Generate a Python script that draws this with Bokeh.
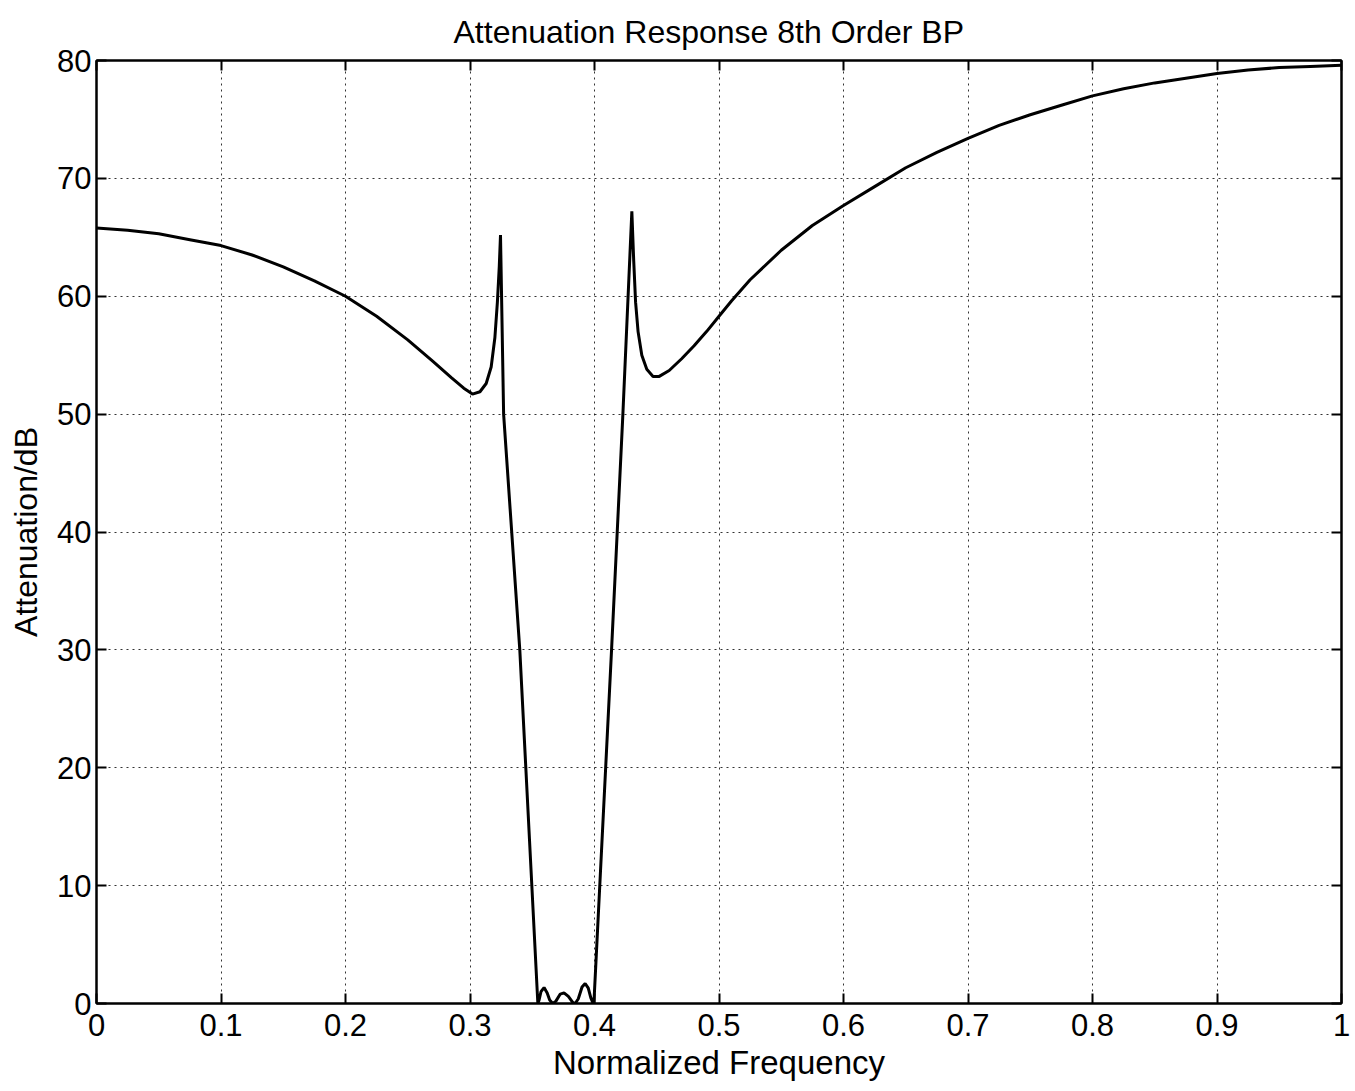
from bokeh.plotting import figure
from bokeh.models import LinearAxis, Range1d, FixedTicker, CustomLabelingPolicy
from bokeh.embed import file_html
from bokeh.resources import INLINE

# ---- data ----
freq = [0.000, 0.025, 0.050, 0.075, 0.100, 0.125, 0.150, 0.175, 0.200, 0.225,
        0.250, 0.270, 0.285, 0.295, 0.302, 0.308, 0.313, 0.317, 0.320, 0.322,
        0.3235, 0.3245, 0.327, 0.340, 0.3545,
        0.3555, 0.357, 0.3595, 0.362, 0.364, 0.3665, 0.369, 0.3725, 0.3755,
        0.379, 0.3825, 0.3845, 0.387, 0.390, 0.3925, 0.395, 0.397, 0.3985,
        0.3995, 0.4137, 0.4228, 0.430,
        0.4315, 0.433, 0.435, 0.438, 0.442, 0.447, 0.452, 0.460, 0.470, 0.480,
        0.490, 0.500, 0.510, 0.525, 0.550, 0.575, 0.600, 0.625, 0.650, 0.675,
        0.700, 0.725, 0.750, 0.775, 0.800, 0.825, 0.850, 0.875, 0.900, 0.925,
        0.950, 0.975, 1.000]
atten = [65.8, 65.6, 65.3, 64.8, 64.3, 63.5, 62.5, 61.3, 60.0, 58.3,
         56.3, 54.5, 53.1, 52.2, 51.7, 51.9, 52.6, 54.0, 56.5, 59.5,
         62.5, 65.2, 50.0, 30.0, 0.0,
         0.3, 1.0, 1.35, 0.9, 0.3, 0.0, 0.2, 0.8, 0.9,
         0.6, 0.1, 0.0, 0.4, 1.4, 1.7, 1.3, 0.5, 0.1,
         0.0, 30.0, 50.0, 67.2,
         63.0, 59.5, 57.0, 55.0, 53.8, 53.2, 53.2, 53.7, 54.7, 55.8,
         57.0, 58.3, 59.6, 61.4, 63.9, 66.0, 67.7, 69.3, 70.9, 72.2,
         73.4, 74.5, 75.4, 76.2, 77.0, 77.6, 78.1, 78.5, 78.9, 79.2,
         79.4, 79.5, 79.6]

x_ticks = [0, 0.1, 0.2, 0.3, 0.4, 0.5, 0.6, 0.7, 0.8, 0.9, 1]
x_tick_labels = ["0", "0.1", "0.2", "0.3", "0.4", "0.5", "0.6", "0.7", "0.8", "0.9", "1"]
y_ticks = [0, 10, 20, 30, 40, 50, 60, 70, 80]

FONT = "Liberation Sans"

p = figure(width=1353, height=1083, output_backend="svg", toolbar_location=None,
           x_range=Range1d(0, 1), y_range=Range1d(0, 80),
           title="Attenuation Response 8th Order BP",
           min_border_left=96, min_border_right=12, min_border_top=60, min_border_bottom=78)

p.title.align = "left"
p.title.offset = 357
p.title.standoff = 22
p.title.text_font = FONT
p.title.text_font_size = "32px"
p.title.text_font_style = "normal"
p.title.text_color = "black"

p.line(freq, atten, line_color="black", line_width=3)

p.outline_line_color = "black"
p.outline_line_width = 2
p.background_fill_color = "white"
p.border_fill_color = "white"

for ax in (p.xaxis[0], p.yaxis[0]):
    ax.major_tick_in = 10
    ax.major_tick_out = 0
    ax.minor_tick_in = 0
    ax.minor_tick_out = 0
    ax.axis_line_color = "black"
    ax.axis_line_width = 2
    ax.major_tick_line_color = "black"
    ax.major_tick_line_width = 2
    ax.major_label_text_font = FONT
    ax.major_label_text_font_size = "31px"
    ax.major_label_text_color = "black"
    ax.axis_label_text_font = FONT
    ax.axis_label_text_font_size = "33px"
    ax.axis_label_text_font_style = "normal"
    ax.axis_label_text_color = "black"

p.yaxis.axis_label_text_font_size = "32px"
p.xaxis.ticker = FixedTicker(ticks=x_ticks)
p.xaxis.major_label_overrides = {t: l for t, l in zip(x_ticks, x_tick_labels)}
p.yaxis.ticker = FixedTicker(ticks=y_ticks)
p.xaxis.axis_label = "Normalized Frequency"
p.yaxis.axis_label = "Attenuation/dB"
p.xaxis.major_label_standoff = 10
p.xaxis.axis_label_standoff = 5
p.yaxis.major_label_standoff = 5
p.yaxis.axis_label_standoff = 10

hide_labels = CustomLabelingPolicy(code="""
    for (const i of indices) { indices.unset(i) }
    return indices
""")

top = LinearAxis(ticker=FixedTicker(ticks=x_ticks), major_tick_in=10, major_tick_out=0,
                 minor_tick_in=0, minor_tick_out=0, major_label_policy=hide_labels,
                 major_label_text_font_size="0px", major_label_standoff=0,
                 axis_line_color="black", axis_line_width=2,
                 major_tick_line_color="black", major_tick_line_width=2)
right = LinearAxis(ticker=FixedTicker(ticks=y_ticks), major_tick_in=10, major_tick_out=0,
                   minor_tick_in=0, minor_tick_out=0, major_label_policy=hide_labels,
                   major_label_text_font_size="0px", major_label_standoff=0,
                   axis_line_color="black", axis_line_width=2,
                   major_tick_line_color="black", major_tick_line_width=2)
p.add_layout(top, "above")
p.add_layout(right, "right")

p.xgrid.ticker = FixedTicker(ticks=x_ticks)
p.ygrid.ticker = FixedTicker(ticks=y_ticks)
for g in (p.xgrid[0], p.ygrid[0]):
    g.grid_line_color = "black"
    g.grid_line_width = 1
    g.grid_line_dash = "2 4"
    g.grid_line_alpha = 0.8

open("out.html", "w").write(file_html(p, INLINE))
